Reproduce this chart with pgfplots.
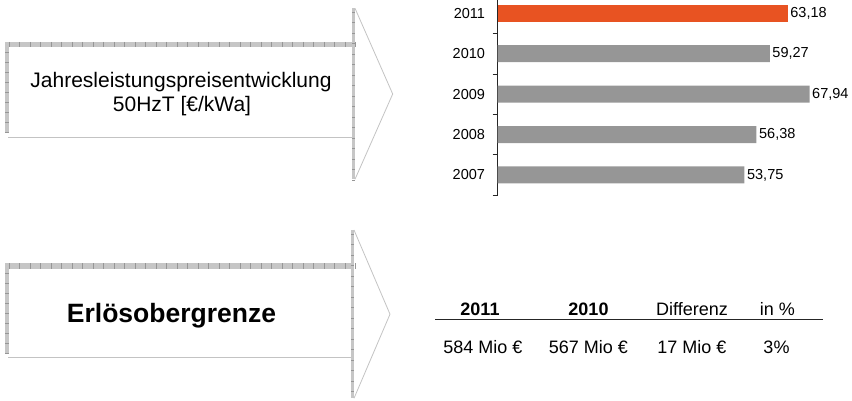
\documentclass[border=0pt]{standalone}
\usepackage{pgfplots}
\pgfplotsset{compat=1.18}
\usepackage{fontspec}
\setmainfont{Liberation Sans}
\definecolor{barorange}{RGB}{232,83,34}
\definecolor{bargray}{RGB}{150,150,150}
\definecolor{band}{RGB}{198,198,198}
\definecolor{bandmark}{RGB}{150,150,150}
\definecolor{lightline}{RGB}{195,195,195}
\begin{document}
\begin{tikzpicture}
\useasboundingbox (0,0) rectangle (852bp,401bp);
\begin{scope}[x=1bp,y=-1bp,shift={(0,401bp)}]
% top arrow
\fill[white] (5,42) rectangle (353,137);
\draw[lightline,line width=0.8bp] (8,137) -- (353,137);
\fill[band] (5,42) rectangle (353,47.5);
\fill[band] (5,42) rectangle (9,132);
\fill[band] (352,8) rectangle (355,179.5);
\foreach \i in {0,...,33} {\draw[bandmark,line width=0.6bp] (9+10.5*\i,42) -- (9+10.5*\i,47.5);}
\foreach \i in {0,...,8} {\draw[bandmark,line width=0.6bp] (5,52+10*\i) -- (9,52+10*\i);}
\foreach \i in {0,...,16} {\draw[bandmark,line width=0.6bp] (352,12+10.5*\i) -- (355,12+10.5*\i);}
\draw[lightline,line width=0.8bp] (355,8.3) -- (392.7,94) -- (355,179.3);
\node[anchor=base,inner sep=0pt,font=\fontsize{21bp}{25bp}\selectfont] at (181,87.3) {Jahresleistungspreisentwicklung};
\node[anchor=base,inner sep=0pt,font=\fontsize{21bp}{25bp}\selectfont] at (182,111.7) {50HzT [€/kWa]};
% bottom arrow
\fill[white] (5,263) rectangle (352,358);
\draw[lightline,line width=0.8bp] (8,357.7) -- (352,357.7);
\fill[band] (5,263.3) rectangle (352,269);
\fill[band] (5,263.3) rectangle (9,353.3);
\fill[band] (351.3,230) rectangle (354,398.3);
\foreach \i in {0,...,33} {\draw[bandmark,line width=0.6bp] (9+10.5*\i,263.3) -- (9+10.5*\i,269);}
\foreach \i in {0,...,8} {\draw[bandmark,line width=0.6bp] (5,273+10*\i) -- (9,273+10*\i);}
\foreach \i in {0,...,15} {\draw[bandmark,line width=0.6bp] (351.3,234+10.5*\i) -- (354,234+10.5*\i);}
\draw[lightline,line width=0.8bp] (354,230) -- (390,314.2) -- (354,398.3);
\node[anchor=base,inner sep=0pt,font=\fontsize{26.5bp}{30bp}\selectfont\bfseries] at (171.5,322.7) {Erlösobergrenze};
% table
\draw[black!85,line width=1bp] (435,320) -- (823,320);
\begin{scope}[every node/.style={anchor=base,inner sep=0pt,font=\fontsize{18bp}{21bp}\selectfont}]
\node at (480,315.7) {\bfseries 2011};
\node at (588.5,315.7) {\bfseries 2010};
\node at (692,315.7) {Differenz};
\node at (777.5,315.7) {in \%};
\node at (483,353.3) {584 Mio €};
\node at (588.5,353.3) {567 Mio €};
\node at (692,353.3) {17 Mio €};
\node at (776.5,353.3) {3\%};
\end{scope}
\end{scope}
\begin{axis}[
 at={(497.7bp,205.8bp)}, anchor=south west,
 scale only axis, width=321.3bp, height=195.2bp,
 xbar, bar width=17bp, bar shift=0pt,
 xmin=0, xmax=70, ymin=-0.5, ymax=4.33,
 axis x line=none, axis y line=left,
 y axis line style={-, line width=0.8bp, black!85},
 ytick={0,1,2,3,4}, yticklabels={2007,2008,2009,2010,2011},
 minor ytick={-0.5,0.5,1.5,2.5,3.5},
 major tick length=0pt, minor tick length=5bp, tick align=outside,
 tick style={line width=0.8bp, black!85},
 yticklabel style={font=\fontsize{14.5bp}{17bp}\selectfont, inner sep=0pt, xshift=-12.5bp},
 nodes near coords, nodes near coords align=horizontal,
 every node near coord/.append style={font=\fontsize{14.5bp}{17bp}\selectfont, inner sep=2.5bp, black},
 /pgf/number format/use comma, /pgf/number format/fixed, /pgf/number format/fixed zerofill,
 /pgf/number format/precision=2, /pgf/number format/assume math mode=true,
]
\addplot[fill=bargray, draw=none] coordinates {(53.75,0) (56.38,1) (67.94,2) (59.27,3)};
\addplot[fill=barorange, draw=none] coordinates {(63.18,4)};
\end{axis}
\end{tikzpicture}
\end{document}
